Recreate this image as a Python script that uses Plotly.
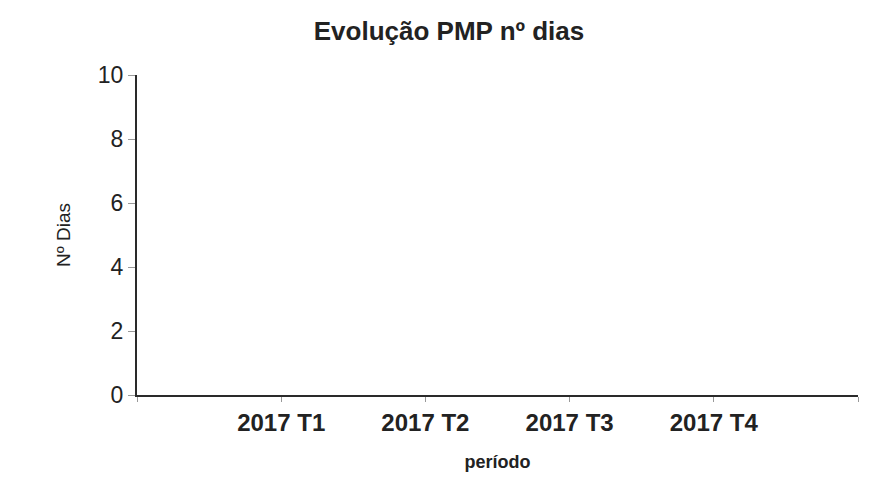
import plotly.graph_objects as go

categories = ["2017 T1", "2017 T2", "2017 T3", "2017 T4"]
values = [None, None, None, None]
y_ticks = [0, 2, 4, 6, 8, 10]

positions = list(range(1, len(categories) + 1))

fig = go.Figure()
fig.add_trace(go.Scatter(x=positions, y=values, mode="lines+markers",
                         line=dict(color="#1f3f8f", width=2), showlegend=False))

font_family = "Liberation Sans, Arial, sans-serif"
W, H = 874, 483
fig.update_layout(
    width=W, height=H,
    margin=dict(l=129, r=24, t=67, b=96),
    paper_bgcolor="white", plot_bgcolor="white",
    title=dict(text="<b>Evolução PMP nº dias</b>", x=441 / W, xanchor="center",
               y=1 - 23 / H, yanchor="middle",
               font=dict(family=font_family, size=26, color="#222222")),
    font=dict(family=font_family, color="#222222"),
)
fig.update_xaxes(
    range=[0, len(categories) + 1],
    tickvals=[0] + positions + [len(categories) + 1],
    ticktext=[""] + [f"<b>{c}</b>" for c in categories] + [""],
    tickfont=dict(size=24, color="#222222"),
    showline=True, linecolor="#2a2a2a", linewidth=2,
    ticks="outside", ticklen=5, tickcolor="#999999", tickwidth=1,
    showgrid=False, zeroline=False, automargin=False,
    title=dict(text="<b>período</b>", font=dict(size=18, color="#222222"), standoff=21),
)
fig.update_yaxes(
    range=[0, 10],
    tickvals=y_ticks,
    tickfont=dict(size=23, color="#222222"),
    showline=True, linecolor="#2a2a2a", linewidth=2,
    ticks="outside", ticklen=7, tickcolor="#999999", tickwidth=1,
    showgrid=False, zeroline=False, automargin=False,
    title=dict(text="Nº Dias", font=dict(size=19, color="#222222"), standoff=22),
)

fig.write_html("out.html")
